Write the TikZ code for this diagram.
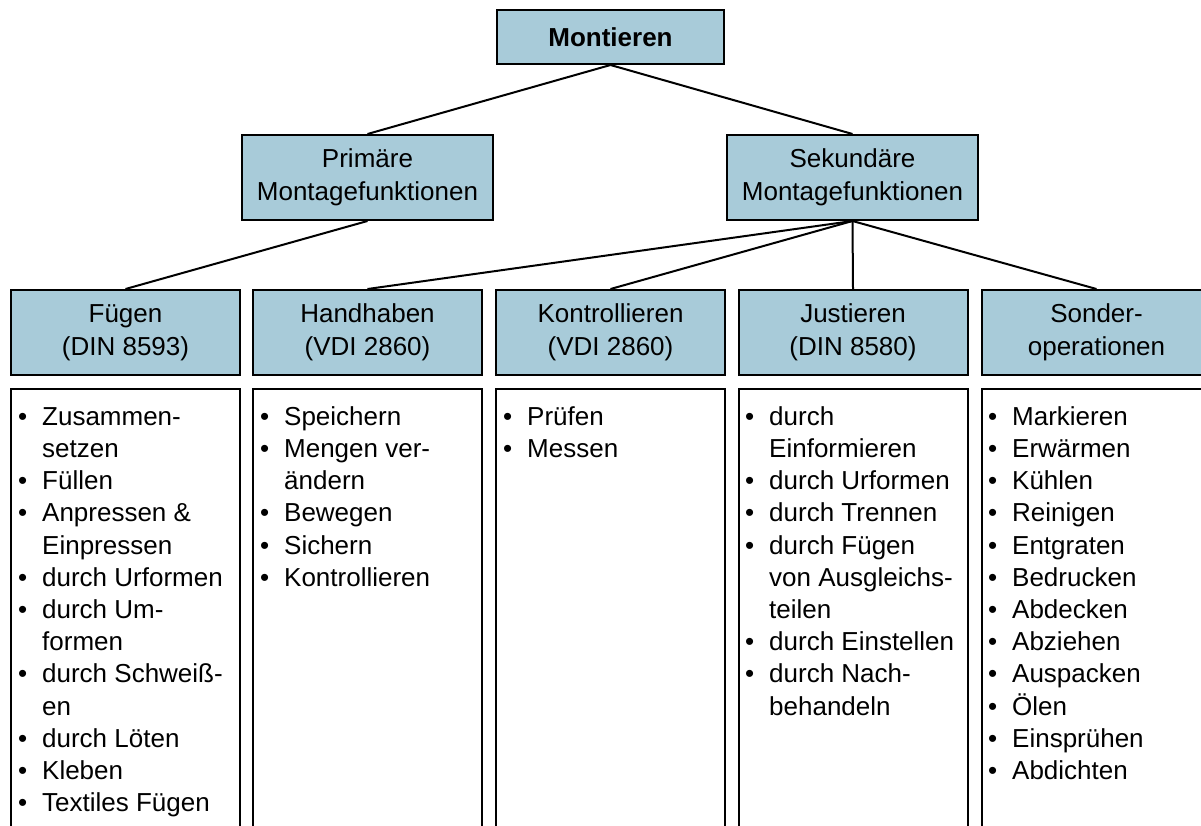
\documentclass[tikz,border=0pt]{standalone}
\usepackage{fontspec}
\setmainfont{Liberation Sans}
\definecolor{boxblue}{HTML}{A8CBD9}
\newcommand{\bul}{\makebox[24pt][l]{\textbullet}}
\newcommand{\cnt}{\hspace*{24pt}}
\newcommand{\firstline}{\rule{0pt}{20pt}}
\begin{document}
\begin{tikzpicture}[x=1pt,y=-1pt,
  headbox/.style={draw=black, line width=2pt, fill=boxblue, inner sep=0pt,
    align=center, text=black, font=\fontsize{26}{33.5}\selectfont},
  lvlbox/.style={headbox, minimum width=229pt, minimum height=85pt},
  listbox/.style={draw=black, line width=2pt, fill=white, inner sep=0pt,
    minimum width=229pt, minimum height=470pt, anchor=north},
  listtext/.style={inner sep=0pt, anchor=north west, align=left, text=black,
    font=\fontsize{26}{32.2}\selectfont},
  link/.style={draw=black, line width=2pt}]
\useasboundingbox (0,0) rectangle (1201,825);
\clip (0,0) rectangle (1201,825);

% top level
\node[headbox, minimum width=227pt, minimum height=54pt, font=\fontsize{26}{33.5}\selectfont\bfseries]
  (mont) at (610.5,37) {Montieren};

% second level
\node[headbox, minimum width=251pt, minimum height=85pt] (prim) at (367.5,177.5)
  {Primäre\\Montagefunktionen};
\node[headbox, minimum width=251pt, minimum height=85pt] (sek) at (852.5,177.5)
  {Sekundäre\\Montagefunktionen};

% third level
\node[lvlbox] (fueg) at (125.5,332.5) {Fügen\\(DIN 8593)};
\node[lvlbox] (hand) at (367.5,332.5) {Handhaben\\(VDI 2860)};
\node[lvlbox] (kont) at (610.5,332.5) {Kontrollieren\\(VDI 2860)};
\node[lvlbox] (just) at (853,332.5) {Justieren\\(DIN 8580)};
\node[lvlbox] (sond) at (1096.5,332.5) {Sonder-\\operationen};

% connectors
\draw[link] (mont.south) -- (prim.north);
\draw[link] (mont.south) -- (sek.north);
\draw[link] (prim.south) -- (fueg.north);
\draw[link] (sek.south) -- (hand.north);
\draw[link] (sek.south) -- (kont.north);
\draw[link] (sek.south) -- (just.north);
\draw[link] (sek.south) -- (sond.north);

% list boxes
\node[listbox] (fuegL) at (125.5,388) {};
\node[listbox] (handL) at (367.5,388) {};
\node[listbox] (kontL) at (610.5,388) {};
\node[listbox] (justL) at (853,388) {};
\node[listbox] (sondL) at (1096.5,388) {};

% list contents
\node[listtext] (fuegT) at (18,405) {\firstline\bul Zusammen-\\ \cnt setzen\\ \bul Füllen\\
  \bul Anpressen \&\\ \cnt Einpressen\\ \bul durch Urformen\\ \bul durch Um-\\ \cnt formen\\
  \bul durch Schweiß-\\ \cnt en\\ \bul durch Löten\\ \bul Kleben\\ \bul Textiles Fügen};
\node[listtext] (handT) at (260,405) {\firstline\bul Speichern\\ \bul Mengen ver-\\ \cnt ändern\\
  \bul Bewegen\\ \bul Sichern\\ \bul Kontrollieren};
\node[listtext] (kontT) at (503,405) {\firstline\bul Prüfen\\ \bul Messen};
\node[listtext] (justT) at (745,405) {\firstline\bul durch\\ \cnt Einformieren\\ \bul durch Urformen\\
  \bul durch Trennen\\ \bul durch Fügen\\ \cnt von Ausgleichs-\\ \cnt teilen\\
  \bul durch Einstellen\\ \bul durch Nach-\\ \cnt behandeln};
\node[listtext] (sondT) at (988,405) {\firstline\bul Markieren\\ \bul Erwärmen\\ \bul Kühlen\\
  \bul Reinigen\\ \bul Entgraten\\ \bul Bedrucken\\ \bul Abdecken\\ \bul Abziehen\\
  \bul Auspacken\\ \bul Ölen\\ \bul Einsprühen\\ \bul Abdichten};
\end{tikzpicture}
\end{document}
